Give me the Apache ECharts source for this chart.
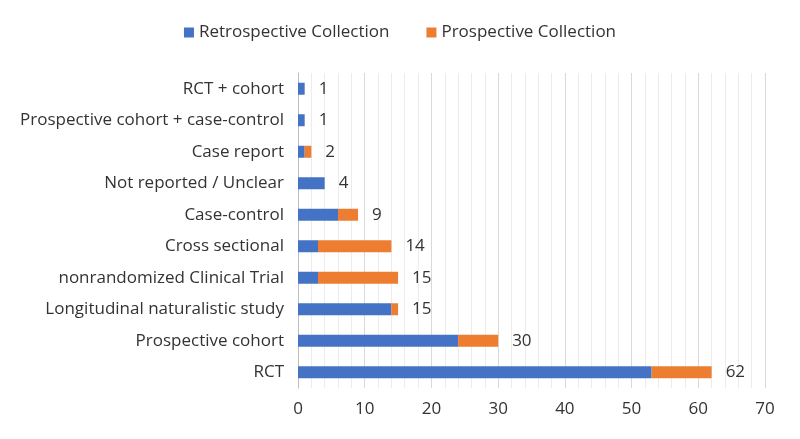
<!DOCTYPE html>
<html><head><meta charset="utf-8">
<script src="https://cdn.jsdelivr.net/npm/echarts@6/dist/echarts.min.js"></script>
<style>html,body{margin:0;padding:0;background:#fff}#c{width:800px;height:439px}</style>
</head><body><div id="c"></div>
<script>
const categories = ["RCT","Prospective cohort","Longitudinal naturalistic study","nonrandomized Clinical Trial","Cross sectional","Case-control","Not reported / Unclear","Case report","Prospective cohort + case-control","RCT + cohort"];
const retrospective = [53,24,14,3,3,6,4,1,1,1];
const prospective = [9,6,1,12,11,3,0,1,0,0];
const totals = [62,30,15,15,14,9,4,2,1,1];
const xTicks = [0,10,20,30,40,50,60,70];

const font = "'Open Sans', sans-serif";
const txt = '#333333';
const chart = echarts.init(document.getElementById('c'));
chart.setOption({
  animation:false,
  textStyle:{fontFamily:font},
  legend:{top:19,left:'center',itemWidth:10,itemHeight:10,itemGap:37,icon:'rect',
    textStyle:{fontSize:17,color:txt,fontFamily:font},
    data:['Retrospective Collection','Prospective Collection']},
  grid:{left:298,right:35,top:73,bottom:51,containLabel:false},
  xAxis:{type:'value',min:xTicks[0],max:xTicks[xTicks.length-1],interval:10,
    axisLine:{show:false},axisTick:{show:false},
    axisLabel:{fontSize:17,color:txt,margin:13,fontFamily:font},
    splitLine:{show:true,lineStyle:{color:'#d9d9d9',width:1}},
    minorTick:{show:false,splitNumber:5},
    minorSplitLine:{show:true,lineStyle:{color:'#ececec',width:1}}},
  yAxis:{type:'category',data:categories,
    axisLine:{show:true,lineStyle:{color:'#bfbfbf'}},axisTick:{show:false},
    axisLabel:{fontSize:17,color:txt,margin:14,fontFamily:font}},
  series:[
    {name:'Retrospective Collection',type:'bar',stack:'s',data:retrospective,barWidth:12,
      itemStyle:{color:'#4472C4'}},
    {name:'Prospective Collection',type:'bar',stack:'s',data:prospective,barWidth:12,
      itemStyle:{color:'#ED7D31'},
      label:{show:true,position:'right',distance:14,fontSize:17,color:txt,fontFamily:font,
        formatter:p=>totals[p.dataIndex]}}
  ]
});
</script></body></html>
